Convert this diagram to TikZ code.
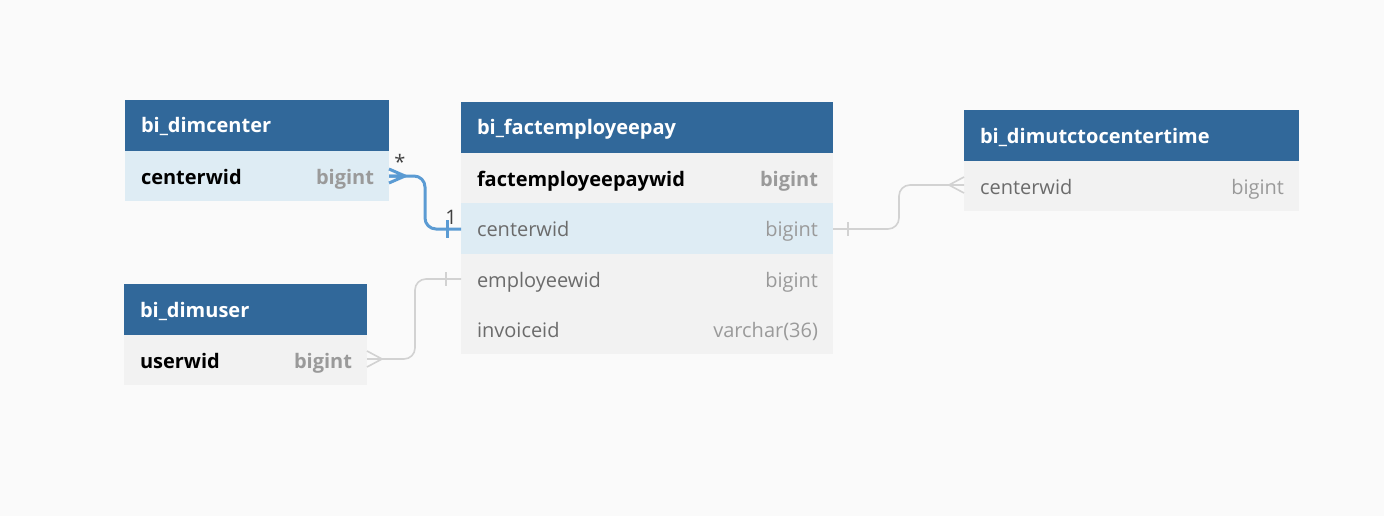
\documentclass[tikz,border=0pt]{standalone}
\usepackage{fontspec}
\setmainfont{Open Sans}
\definecolor{bgc}{HTML}{FAFAFA}
\definecolor{hdr}{HTML}{31689A}
\definecolor{rowg}{HTML}{F2F2F2}
\definecolor{rowb}{HTML}{DEECF4}
\definecolor{fname}{HTML}{6B6B6B}
\definecolor{ftype}{HTML}{9A9A9A}
\definecolor{relb}{HTML}{5B9BD3}
\definecolor{relg}{HTML}{D2D2D2}
\begin{document}
\begin{tikzpicture}[x=1pt,y=-1pt,
  every node/.style={inner sep=0pt,outer sep=0pt},
  hbox/.style={fill=hdr},
  rbox/.style={fill=rowg},
  bbox/.style={fill=rowb},
  htext/.style={anchor=base west,text=white,font=\fontsize{20}{24}\selectfont\bfseries},
  pkname/.style={anchor=base west,text=black,font=\fontsize{20}{24}\selectfont\bfseries},
  pktype/.style={anchor=base east,text=ftype,font=\fontsize{20}{24}\selectfont\bfseries},
  fldname/.style={anchor=base west,text=fname,font=\fontsize{20}{24}\selectfont},
  fldtype/.style={anchor=base east,text=ftype,font=\fontsize{20}{24}\selectfont},
  blueline/.style={draw=relb,line width=3pt,rounded corners=11pt},
  greyline/.style={draw=relg,line width=1.6pt,rounded corners=11pt},
  card/.style={text=black!75,font=\fontsize{20}{24}\selectfont}
]
\useasboundingbox[fill=bgc] (0,0) rectangle (1384,516);

% bi_dimcenter
\fill[hbox] (125,100) rectangle (389,151);
\fill[bbox] (125,151) rectangle (389,201);
\node[htext] (dch) at (141,133) {bi\_dimcenter};
\node[pkname] (dcn) at (141,184) {centerwid};
\node[pktype] (dct) at (374,184) {bigint};
\coordinate (dcR) at (389,176);

% bi_factemployeepay
\fill[hbox] (461,102) rectangle (833,153);
\fill[rbox] (461,153) rectangle (833,203);
\fill[bbox] (461,203) rectangle (833,254);
\fill[rbox] (461,254) rectangle (833,354);
\node[htext] (fh) at (477,135) {bi\_factemployeepay};
\node[pkname] (f1n) at (477,186) {factemployeepaywid};
\node[pktype] (f1t) at (818,186) {bigint};
\node[fldname] (f2n) at (477,236) {centerwid};
\node[fldtype] (f2t) at (818,236) {bigint};
\node[fldname] (f3n) at (477,287) {employeewid};
\node[fldtype] (f3t) at (818,287) {bigint};
\node[fldname] (f4n) at (477,337.5) {invoiceid};
\node[fldtype] (f4t) at (818,337.5) {varchar(36)};
\coordinate (fCL) at (461,229);
\coordinate (fCR) at (833,229);
\coordinate (fEL) at (461,279);

% bi_dimutctocentertime
\fill[hbox] (964,110) rectangle (1299,161);
\fill[rbox] (964,161) rectangle (1299,211);
\node[htext] (uh) at (980,143) {bi\_dimutctocentertime};
\node[fldname] (un) at (980,194) {centerwid};
\node[fldtype] (ut) at (1284,194) {bigint};
\coordinate (uL) at (964,185);

% bi_dimuser
\fill[hbox] (124,284) rectangle (367,335);
\fill[rbox] (124,335) rectangle (367,385);
\node[htext] (dh) at (140,317) {bi\_dimuser};
\node[pkname] (dn) at (140,368) {userwid};
\node[pktype] (dt) at (352,368) {bigint};
\coordinate (dR) at (367,359);

% blue relation: dimcenter.centerwid * -- 1 factemployeepay.centerwid
\draw[blueline] (dcR) -- (425,176) -- (425,229) -- (fCL);
\draw[draw=relb,line width=3pt] (389,169) -- (405,176) -- (389,183) (dcR) -- (405,176);
\draw[draw=relb,line width=3pt] (447,220) -- (447,238);
\node[card] (star) at (400,162) {*};
\node[card] (one) at (451,217) {1};

% grey relation: factemployeepay.centerwid -- dimutctocentertime.centerwid
\draw[greyline] (fCR) -- (899,229) -- (899,185) -- (uL);
\draw[draw=relg,line width=1.6pt] (848,222) -- (848,236);
\draw[draw=relg,line width=1.6pt] (964,177) -- (949,185) -- (964,193);

% grey relation: factemployeepay.employeewid -- dimuser.userwid
\draw[greyline] (fEL) -- (415,279) -- (415,359) -- (dR);
\draw[draw=relg,line width=1.6pt] (446,272) -- (446,286);
\draw[draw=relg,line width=1.6pt] (367,351) -- (382,359) -- (367,367);
\end{tikzpicture}
\end{document}
